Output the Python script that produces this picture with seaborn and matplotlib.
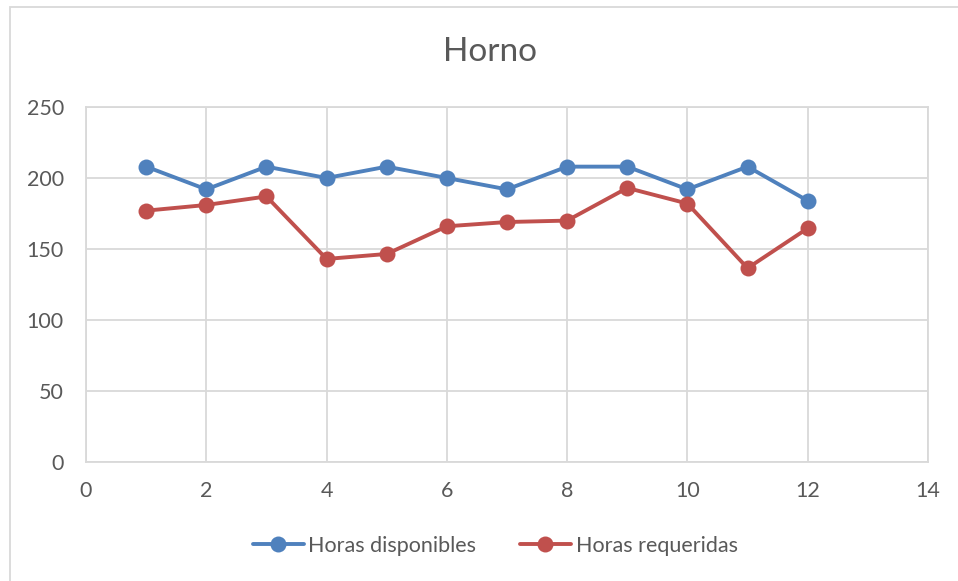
import matplotlib
matplotlib.use("Agg")
import matplotlib.pyplot as plt
import seaborn as sns
import pandas as pd
from matplotlib.lines import Line2D
from matplotlib.patches import Rectangle

periodos = [1, 2, 3, 4, 5, 6, 7, 8, 9, 10, 11, 12]
horas_disponibles = [208, 192, 208, 200, 208, 200, 192, 208, 208, 192, 208, 184]
horas_requeridas = [177, 181, 187, 143, 146.5, 166, 169, 170, 193, 182, 136.5, 164.6]
series_names = ["Horas disponibles", "Horas requeridas"]
colors = ["#4F81BD", "#C0504D"]
x_ticks = [0, 2, 4, 6, 8, 10, 12, 14]
y_ticks = [0, 50, 100, 150, 200, 250]

df = pd.DataFrame({
    "x": periodos * 2,
    "y": horas_disponibles + horas_requeridas,
    "serie": [series_names[0]] * len(periodos) + [series_names[1]] * len(periodos),
})

sns.set_theme(style="white")
plt.rcParams["font.family"] = ["Lato", "DejaVu Sans"]
text_color = "#595959"
grid_color = "#D9D9D9"

fig = plt.figure(figsize=(9.58, 5.81), dpi=100)
ax = fig.add_axes([86 / 958, 1 - 462 / 581, 842 / 958, 355 / 581])

sns.lineplot(data=df, x="x", y="y", hue="serie", palette=colors,
             marker="o", markersize=11.5, markeredgewidth=0, linewidth=2.8,
             ax=ax, legend=False)

ax.set_xlim(0, 14)
ax.set_ylim(0, 250)
ax.set_xticks(x_ticks)
ax.set_yticks(y_ticks)
ax.set_xlabel("")
ax.set_ylabel("")
ax.grid(True, color=grid_color, linewidth=1.3)
ax.set_axisbelow(True)
for s in ax.spines.values():
    s.set_color(grid_color)
    s.set_linewidth(1.3)
ax.tick_params(axis="both", length=0, labelsize=15.5, colors=text_color)
ax.tick_params(axis="y", pad=16)
ax.tick_params(axis="x", pad=14)

fig.text(490 / 958, 1 - 52 / 581, "Horno", ha="center", va="center",
         fontsize=24, color=text_color)

handles = [Line2D([0], [0], color=c, lw=2.8, marker="o", markersize=11.5,
                  markeredgewidth=0) for c in colors]
fig.legend(handles, series_names, loc="center", bbox_to_anchor=(495 / 958, 1 - 546 / 581),
           ncol=2, frameon=False, fontsize=15.5, labelcolor=text_color,
           handlelength=2.4, handletextpad=0.2, columnspacing=2.0)

fig.patches.append(Rectangle((10 / 958, -0.1), 1.2, 1 - 7 / 581 + 0.1,
                             transform=fig.transFigure, fill=False,
                             edgecolor=grid_color, linewidth=1.3))

fig.savefig("out.png", dpi=100)
